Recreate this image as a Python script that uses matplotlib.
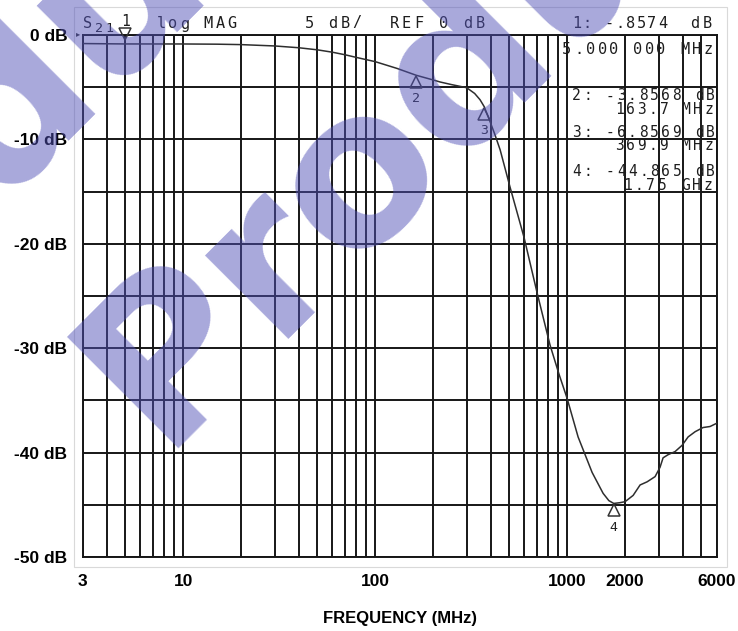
import numpy as np
import matplotlib.pyplot as plt
from matplotlib import transforms

# S21 trace (MHz, dB)
freq_mhz = [3, 5, 10, 15, 20, 30, 40, 50, 60, 70, 80, 100, 130, 163.7, 200, 218,
            250, 300, 330, 352, 369.9, 397, 420, 448, 505, 597, 698, 815, 908,
            1000, 1141, 1350, 1540, 1650, 1750, 1880, 2005, 2208, 2400, 2610,
            2873, 3049, 3162, 3357, 3652, 3972, 4268, 4642, 5105, 5555, 6000]
s21_db = [-0.82, -0.857, -0.86, -0.88, -0.92, -1.05, -1.22, -1.42, -1.65, -1.9,
          -2.15, -2.55, -3.2, -3.857, -4.3, -4.5, -4.75, -5.05, -5.6, -6.2,
          -6.857, -8.3, -9.5, -11.0, -14.6, -19.4, -24.7, -29.7, -32.5, -34.8,
          -38.5, -41.9, -43.9, -44.6, -44.87, -44.8, -44.7, -44.1, -43.1, -42.8,
          -42.3, -41.4, -40.5, -40.2, -39.9, -39.3, -38.5, -38.0, -37.6, -37.5,
          -37.2]

# markers
mk_freq = [5, 163.7, 369.9, 1750]
mk_db = [-0.8574, -3.8568, -6.8569, -44.865]
mk_name = ['1', '2', '3', '4']

xticks = [3, 10, 100, 1000, 2000, 6000]
xtick_labels = ['3', '10', '100', '1000', '2000', '6000']
yticks = [0, -10, -20, -30, -40, -50]
ytick_labels = ['0 dB', '-10 dB', '-20 dB', '-30 dB', '-40 dB', '-50 dB']

W, H = 738, 631
fig = plt.figure(figsize=(W / 100, H / 100), dpi=100)
ax = fig.add_axes([82.7 / W, 1 - 557 / H, (716.5 - 82.7) / W, (557 - 35) / H])

ax.set_xscale('log')
ax.set_xlim(3, 6000)
ax.set_ylim(-50, 0)

# chart paper grid
vlines = [m * 10 ** d for d in range(0, 4) for m in range(1, 10)]
vlines = [v for v in vlines if 3 <= v <= 6000]
for v in vlines:
    ax.axvline(v, color='#161616', lw=1.4, zorder=1)
for h in np.arange(0, -55, -5):
    ax.axhline(h, color='#161616', lw=1.4, zorder=1)
for s in ax.spines.values():
    s.set_color('#161616')
    s.set_linewidth(1.4)

ax.plot(freq_mhz, s21_db, color='#2e2e2e', lw=1.1, zorder=3)

# marker triangles
ms = 9
below = transforms.offset_copy(ax.transData, fig=fig, y=-ms / 2 - 0.5, units='points')
above = transforms.offset_copy(ax.transData, fig=fig, y=ms / 2 + 3, units='points')
ax.plot(mk_freq[:1], mk_db[:1], 'v', ms=ms, mfc='none', mec='#333333', mew=1.1,
        transform=above, zorder=4, clip_on=False)
ax.plot(mk_freq[1:], mk_db[1:], '^', ms=ms, mfc='none', mec='#333333', mew=1.1,
        transform=below, zorder=4)
for f, d, n in zip(mk_freq[1:], mk_db[1:], mk_name[1:]):
    ax.annotate(n, (f, d), xytext=(0, -17), textcoords='offset points',
                ha='center', va='center', fontsize=9.5, color='#222222',
                family='DejaVu Sans Mono')

ax.set_xticks(xticks)
ax.set_xticklabels(xtick_labels)
ax.set_yticks(yticks)
ax.set_yticklabels(ytick_labels)
ax.xaxis.set_minor_locator(plt.NullLocator())
ax.tick_params(length=0, labelsize=12.5)
ax.tick_params(axis='x', pad=12)
ax.tick_params(axis='y', pad=11)
for lab in ax.get_xticklabels() + ax.get_yticklabels():
    lab.set_fontweight('bold')
    lab.set_family('Liberation Sans')
ax.set_xlabel('FREQUENCY (MHz)', fontsize=12, fontweight='bold',
              family='Liberation Sans', labelpad=16)


def plotter_text(s, x0, x1, y, size=10.5):
    pitch = (x1 - x0) / len(s)
    for i, ch in enumerate(s):
        if ch != ' ':
            fig.text((x0 + (i + 0.5) * pitch) / W, 1 - y / H, ch, ha='center',
                     va='center', family='DejaVu Sans Mono', fontsize=size,
                     color='#1e1e1e', zorder=5)


# analyzer header
plotter_text('S', 82, 93, 23, size=11)
plotter_text('21', 93, 115, 28, size=9.5)
plotter_text('1', 121, 131, 22)
plotter_text('log MAG', 155, 238, 24, size=11)
plotter_text('5 dB/', 303, 363, 23, size=11)
plotter_text('REF 0 dB', 388, 486, 23, size=11)
plotter_text('1: -.8574', 571, 668, 23, size=11)
plotter_text('dB', 688, 714, 23, size=11)
fig.text(78 / W, 1 - 34 / H, '\u25b8', fontsize=6, ha='center', va='center',
         color='#333333', zorder=5)

# marker readouts
plotter_text('5.000 000 MHz', 561, 714, 50, size=11)
plotter_text('2: -3.8568 dB', 571, 716, 96)
plotter_text('163.7 MHz', 614, 714, 110)
plotter_text('3: -6.8569 dB', 571, 716, 132)
plotter_text('369.9 MHz', 614, 714, 146)
plotter_text('4: -44.865 dB', 571, 716, 171)
plotter_text('1.75 GHz', 622, 714, 185)

# faint edge of the scanned sheet
fig.add_artist(plt.Rectangle((74 / W, 1 - 567 / H), (727 - 74) / W, (567 - 7) / H,
                             fill=False, ec='#d9d9d9', lw=0.8,
                             transform=fig.transFigure))

# watermark
for ox, oy in [(159, 449), (-297, 487)]:
    fig.text(ox / W, 1 - oy / H, 'Product', rotation=45, rotation_mode='anchor',
             ha='left', va='baseline', fontsize=155, fontweight='bold',
             family='DejaVu Sans', color='#5252b8', alpha=0.5, zorder=10)

fig.savefig('out.png', dpi=100)
